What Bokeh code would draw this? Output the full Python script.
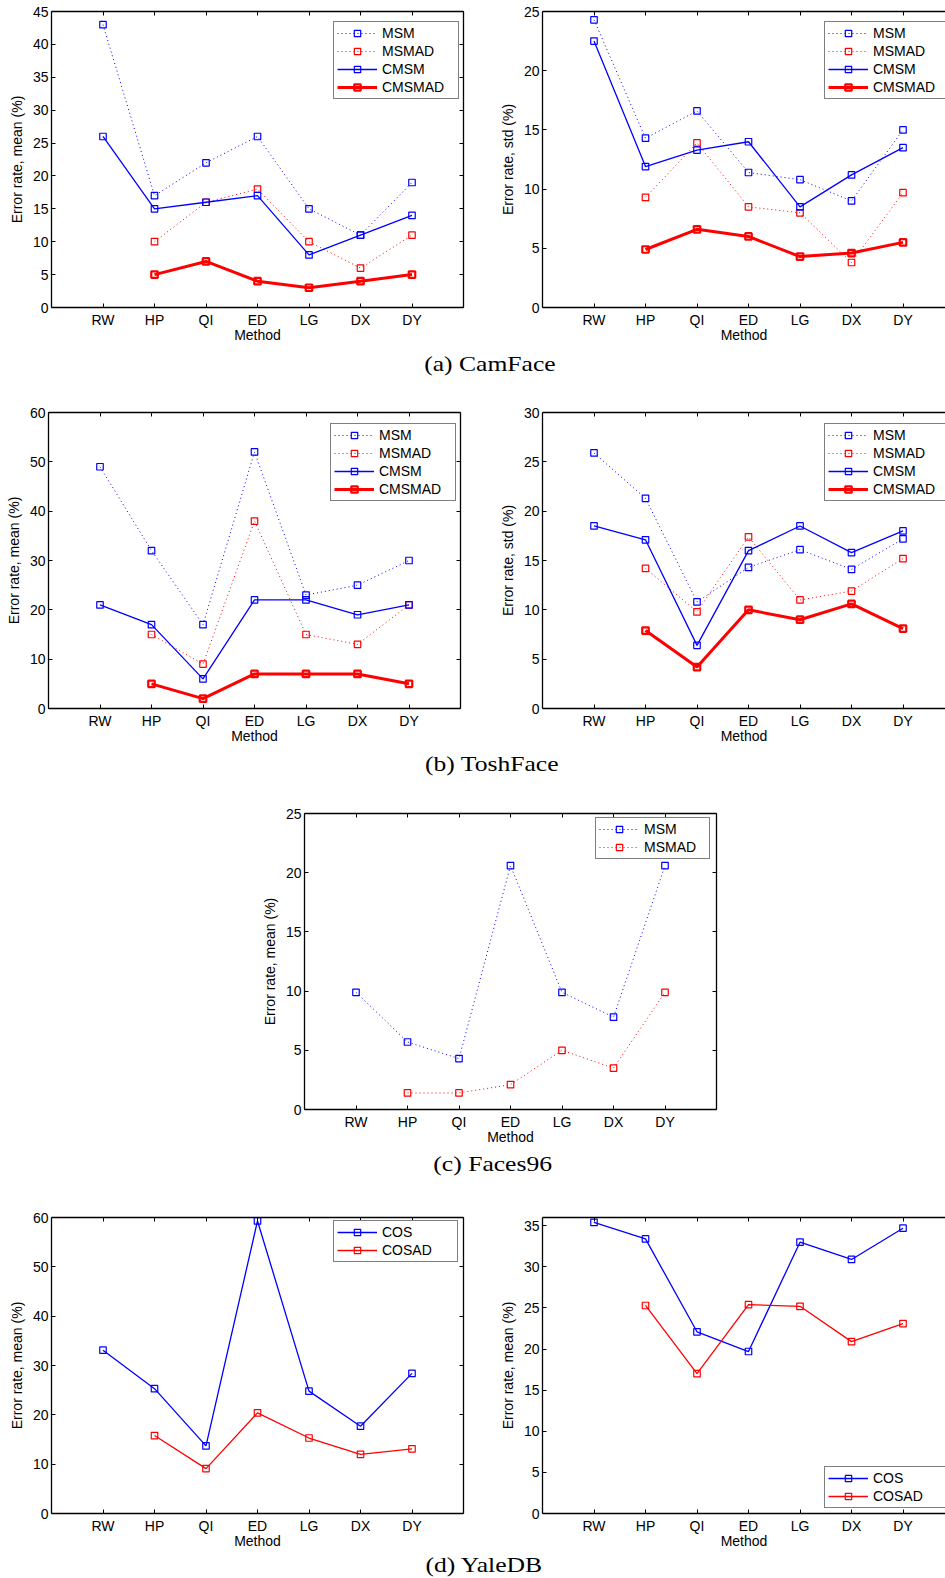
import numpy as np
from bokeh.plotting import figure
from bokeh.models import Range1d, LinearAxis, FixedTicker, Legend, LegendItem, Div
from bokeh.layouts import column, row
from bokeh.embed import file_html
from bokeh.resources import INLINE

nan = np.nan

# ---------------- data ----------------
methods = ["RW", "HP", "QI", "ED", "LG", "DX", "DY"]

# (a) CamFace
cam_mean_msm = [43, 17, 22, 26, 15, 11, 19]
cam_mean_msmad = [nan, 10, 16, 18, 10, 6, 11]
cam_mean_cmsm = [26, 15, 16, 17, 8, 11, 14]
cam_mean_cmsmad = [nan, 5, 7, 4, 3, 4, 5]
cam_std_msm = [24.3, 14.3, 16.6, 11.4, 10.8, 9.0, 15.0]
cam_std_msmad = [nan, 9.3, 13.9, 8.5, 8.0, 3.8, 9.7]
cam_std_cmsm = [22.5, 11.9, 13.3, 14.0, 8.5, 11.2, 13.5]
cam_std_cmsmad = [nan, 4.9, 6.6, 6.0, 4.3, 4.6, 5.5]

# (b) ToshFace
tosh_mean_msm = [49, 32, 17, 52, 23, 25, 30]
tosh_mean_msmad = [nan, 15, 9, 38, 15, 13, 21]
tosh_mean_cmsm = [21, 17, 6, 22, 22, 19, 21]
tosh_mean_cmsmad = [nan, 5, 2, 7, 7, 7, 5]
tosh_std_msm = [25.9, 21.3, 10.8, 14.3, 16.1, 14.1, 17.2]
tosh_std_msmad = [nan, 14.2, 9.8, 17.4, 11.0, 11.9, 15.2]
tosh_std_cmsm = [18.5, 17.1, 6.4, 16.0, 18.5, 15.8, 18.0]
tosh_std_cmsmad = [nan, 7.9, 4.2, 10.0, 9.0, 10.6, 8.1]

# (c) Faces96
f96_msm = [9.9, 5.7, 4.3, 20.6, 9.9, 7.8, 20.6]
f96_msmad = [nan, 1.4, 1.4, 2.1, 5.0, 3.5, 9.9]

# (d) YaleDB
yale_l_cos = [33.1, 25.3, 13.7, 59.3, 24.8, 17.7, 28.4]
yale_l_cosad = [nan, 15.8, 9.1, 20.4, 15.3, 12.0, 13.1]
yale_r_cos = [35.4, 33.4, 22.1, 19.7, 33.0, 30.9, 34.7]
yale_r_cosad = [nan, 25.3, 17.0, 25.4, 25.2, 20.9, 23.1]

# tick labels
yticks_45 = [0, 5, 10, 15, 20, 25, 30, 35, 40, 45]
yticks_25 = [0, 5, 10, 15, 20, 25]
yticks_60 = [0, 10, 20, 30, 40, 50, 60]
yticks_30 = [0, 5, 10, 15, 20, 25, 30]
yticks_35 = [0, 5, 10, 15, 20, 25, 30, 35]

captions = ["(a) CamFace", "(b) ToshFace", "(c) Faces96", "(d) YaleDB"]

# ---------------- styles ----------------
SANS = "Liberation Sans"
FS = "14px"
STYLE = {
    "MSM": dict(color="blue", dash="1 3", lw=1.0, mlw=1.2, size=6.5),
    "MSMAD": dict(color="red", dash="1 3", lw=1.0, mlw=1.2, size=6.5),
    "CMSM": dict(color="blue", dash="solid", lw=1.3, mlw=1.2, size=6.5),
    "CMSMAD": dict(color="red", dash="solid", lw=3.0, mlw=2.2, size=6.5),
    "COS": dict(color="blue", dash="solid", lw=1.3, mlw=1.2, size=6.5),
    "COSAD": dict(color="red", dash="solid", lw=1.3, mlw=1.2, size=6.5),
}

xs = list(range(1, len(methods) + 1))
FRAME_H = 296


def style_axis(ax, show_labels=True, standoff=3):
    ax.axis_line_color = "black"
    ax.axis_line_width = 1.3
    ax.major_tick_line_color = "black"
    ax.major_tick_line_width = 1
    ax.major_tick_in = 4
    ax.major_tick_out = 0
    ax.minor_tick_line_color = None
    ax.major_label_text_font = SANS
    ax.axis_label_text_font = SANS
    ax.axis_label_text_font_size = FS
    ax.axis_label_text_font_style = "normal"
    ax.axis_label_text_color = "black"
    if show_labels:
        ax.major_label_text_color = "black"
        ax.major_label_text_font_size = FS
        ax.major_label_standoff = standoff
    else:
        ax.major_label_text_color = None
        ax.major_label_text_alpha = 0
        ax.major_label_text_font_size = "1px"
        ax.major_label_standoff = 0


def panel(series, y_end, yticks, ylabel, width, height, b_left, b_top, frame_w,
          x_end, legend_left, legend_top=None, legend_bottom=None, label_w=72,
          right_axis=True):
    b_right = width - b_left - frame_w
    b_bottom = height - b_top - FRAME_H
    p = figure(width=width, height=height, output_backend="svg", toolbar_location=None,
               x_range=Range1d(0, x_end), y_range=Range1d(0, y_end),
               x_axis_location=None, y_axis_location=None,
               min_border_left=b_left, min_border_right=b_right,
               min_border_top=b_top, min_border_bottom=b_bottom)
    p.outline_line_color = None
    p.background_fill_color = "white"
    p.border_fill_color = "white"
    p.grid.visible = False

    yl = LinearAxis(ticker=FixedTicker(ticks=yticks, minor_ticks=[]), axis_label=ylabel)
    style_axis(yl, True, 3)
    yl.axis_label_standoff = 5
    p.add_layout(yl, "left")

    xb = LinearAxis(ticker=FixedTicker(ticks=xs, minor_ticks=[]), axis_label="Method",
                    major_label_overrides={x: m for x, m in zip(xs, methods)})
    style_axis(xb, True, 4)
    xb.axis_label_standoff = -4
    p.add_layout(xb, "below")

    xa = LinearAxis(ticker=FixedTicker(ticks=xs, minor_ticks=[]))
    style_axis(xa, False)
    p.add_layout(xa, "above")

    if right_axis:
        yr = LinearAxis(ticker=FixedTicker(ticks=yticks, minor_ticks=[]))
        style_axis(yr, False)
        p.add_layout(yr, "right")

    items = []
    for name, vals in series:
        st = STYLE[name]
        y = np.array(vals, dtype=float)
        rl = p.line(xs, y, line_color=st["color"], line_width=st["lw"], line_dash=st["dash"])
        rs = p.scatter(xs, y, marker="square", size=st["size"], fill_color=None,
                       line_color=st["color"], line_width=st["mlw"])
        items.append(LegendItem(label=name, renderers=[rl, rs]))

    n = len(items)
    pad, row_h, spacing = 3, 16, 2
    leg_h = 2 * pad + n * row_h + (n - 1) * spacing
    if legend_top is not None:
        vy = FRAME_H - legend_top - leg_h
    else:
        vy = legend_bottom
    leg = Legend(items=items, location=(legend_left, vy), padding=pad, spacing=spacing,
                 glyph_width=40, glyph_height=row_h, label_height=row_h, label_standoff=5,
                 label_width=label_w, margin=0,
                 label_text_font=SANS, label_text_font_size=FS, label_text_color="black",
                 border_line_color="black", border_line_width=1.5,
                 background_fill_color="white", background_fill_alpha=1.0)
    p.add_layout(leg)
    return p


def caption(text, h, dx, dy):
    html = ('<span style="display:inline-block;white-space:nowrap;'
            f'transform:translate({dx}px,{dy}px) scaleX(1.22);transform-origin:50% 50%">{text}</span>')
    return Div(text=html, width=945, height=h, margin=0,
               styles={"font-family": "'Liberation Serif', 'Times New Roman', serif",
                       "font-size": "21px", "text-align": "center", "color": "black",
                       "line-height": "normal", "overflow": "visible"})


LW, RW_ = 470, 475

a1 = panel([("MSM", cam_mean_msm), ("MSMAD", cam_mean_msmad), ("CMSM", cam_mean_cmsm),
            ("CMSMAD", cam_mean_cmsmad)], 45, yticks_45, "Error rate, mean (%)",
           LW, 350, 51, 11, 412, 8, 282, legend_top=12, label_w=73)
a2 = panel([("MSM", cam_std_msm), ("MSMAD", cam_std_msmad), ("CMSM", cam_std_cmsm),
            ("CMSMAD", cam_std_cmsmad)], 25, yticks_25, "Error rate, std (%)",
           RW_, 350, 72, 11, 403, 403 / 51.5, 282, legend_top=12, label_w=73,
           right_axis=False)

b1 = panel([("MSM", tosh_mean_msm), ("MSMAD", tosh_mean_msmad), ("CMSM", tosh_mean_cmsm),
            ("CMSMAD", tosh_mean_cmsmad)], 60, yticks_60, "Error rate, mean (%)",
           LW, 350, 48, 12, 412, 8, 282, legend_top=13, label_w=73)
b2 = panel([("MSM", tosh_std_msm), ("MSMAD", tosh_std_msmad), ("CMSM", tosh_std_cmsm),
            ("CMSMAD", tosh_std_cmsmad)], 30, yticks_30, "Error rate, std (%)",
           RW_, 350, 72, 12, 403, 403 / 51.5, 282, legend_top=13, label_w=73,
           right_axis=False)

c1 = panel([("MSM", f96_msm), ("MSMAD", f96_msmad)], 25, yticks_25, "Error rate, mean (%)",
           945, 350, 304, 13, 412, 8, 291, legend_top=6, label_w=62)

d1 = panel([("COS", yale_l_cos), ("COSAD", yale_l_cosad)], 60, yticks_60, "Error rate, mean (%)",
           LW, 356, 51, 20, 412, 8, 282, legend_top=5, label_w=72)
d2 = panel([("COS", yale_r_cos), ("COSAD", yale_r_cosad)], 36, yticks_35, "Error rate, mean (%)",
           RW_, 356, 72, 20, 403, 403 / 51.5, 282, legend_bottom=5, label_w=72,
           right_axis=False)

layout = column(
    row(a1, a2), caption(captions[0], 50, 17, 2),
    row(b1, b2), caption(captions[1], 50, 19, 2),
    c1, caption(captions[2], 47, 20, 2),
    row(d1, d2), caption(captions[3], 25, 11, 0),
)

open("out.html", "w").write(file_html(layout, INLINE))
